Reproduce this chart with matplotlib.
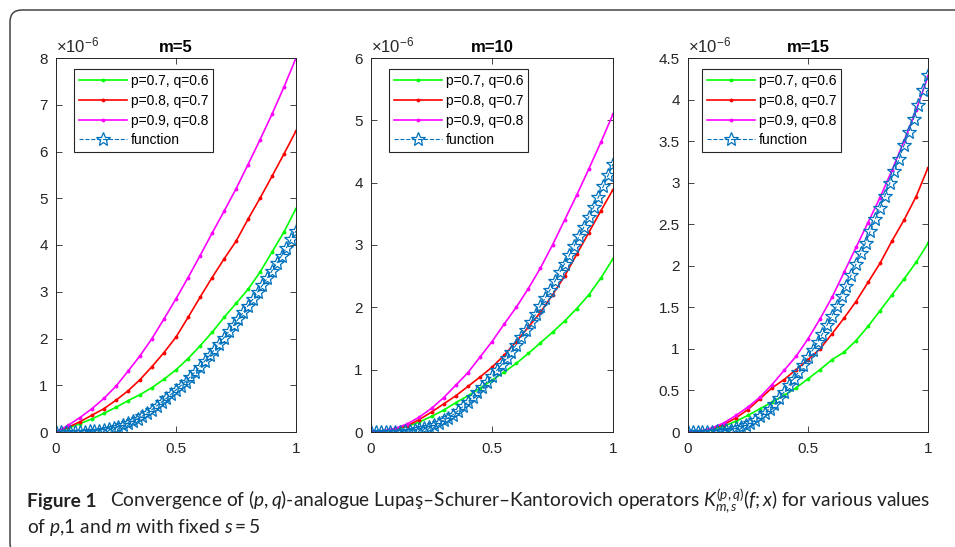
import matplotlib
matplotlib.use('Agg')
import matplotlib.pyplot as plt
import matplotlib.patches as pch
from matplotlib.transforms import IdentityTransform
from matplotlib.ticker import FormatStrFormatter, MultipleLocator
import numpy as np

plt.rcParams['font.family'] = ['Liberation Sans', 'DejaVu Sans']
plt.rcParams['mathtext.fontset'] = 'custom'
plt.rcParams['mathtext.rm'] = 'Lato'
plt.rcParams['mathtext.it'] = 'Lato:italic'

# values, in units of 1e-6
x_ops = np.linspace(0, 1, 21)
x_fun = np.linspace(0, 1, 51)

func = [0, 0, 0, 0.001, 0.002, 0.004, 0.007, 0.012, 0.019, 0.03, 0.045, 0.06, 0.08,
        0.11, 0.14, 0.19, 0.23, 0.28, 0.34, 0.41, 0.48, 0.56, 0.64, 0.72, 0.81, 0.90,
        0.99, 1.08, 1.18, 1.29, 1.40, 1.52, 1.64, 1.76, 1.89, 2.02, 2.15, 2.28, 2.42,
        2.56, 2.70, 2.84, 2.99, 3.14, 3.29, 3.45, 3.61, 3.77, 3.94, 4.12, 4.30]

# m = 5
green5 = [0, 0.08, 0.18, 0.28, 0.4, 0.53, 0.67, 0.8, 0.95, 1.13, 1.33, 1.57, 1.84,
          2.13, 2.45, 2.75, 3.05, 3.42, 3.85, 4.28, 4.78]
red5 = [0, 0.1, 0.22, 0.36, 0.5, 0.68, 0.88, 1.12, 1.4, 1.7, 2.03, 2.45, 2.88,
        3.3, 3.7, 4.08, 4.55, 5.0, 5.47, 5.95, 6.44]
magenta5 = [0, 0.14, 0.31, 0.5, 0.72, 0.98, 1.3, 1.63, 2.0, 2.42, 2.85, 3.3, 3.77,
            4.25, 4.72, 5.2, 5.72, 6.25, 6.8, 7.38, 8.0]
# m = 10
green10 = [0, 0.01, 0.04, 0.09, 0.16, 0.25, 0.35, 0.47, 0.58, 0.7, 0.83, 0.96, 1.1,
           1.26, 1.43, 1.6, 1.78, 1.98, 2.2, 2.47, 2.78]
red10 = [0, 0.02, 0.05, 0.1, 0.2, 0.32, 0.45, 0.58, 0.73, 0.88, 1.04, 1.23, 1.45,
         1.68, 1.92, 2.2, 2.5, 2.85, 3.2, 3.55, 3.89]
magenta10 = [0, 0.02, 0.06, 0.13, 0.24, 0.38, 0.55, 0.75, 0.95, 1.2, 1.45, 1.73, 2.0,
             2.3, 2.63, 3.0, 3.4, 3.8, 4.22, 4.65, 5.1]
# m = 15
green15 = [0, 0.01, 0.03, 0.07, 0.13, 0.2, 0.28, 0.36, 0.44, 0.53, 0.64, 0.75, 0.87,
           0.96, 1.1, 1.27, 1.46, 1.65, 1.84, 2.04, 2.27]
red15 = [0, 0.01, 0.04, 0.09, 0.17, 0.27, 0.4, 0.53, 0.63, 0.75, 0.87, 1.0, 1.18,
         1.37, 1.57, 1.8, 2.03, 2.3, 2.55, 2.83, 3.18]
magenta15 = [0, 0.01, 0.05, 0.11, 0.2, 0.3, 0.42, 0.57, 0.74, 0.91, 1.12, 1.36, 1.62,
             1.92, 2.22, 2.52, 2.82, 3.15, 3.5, 3.87, 4.28]

titles = ['m=5', 'm=10', 'm=15']
series = [(green5, red5, magenta5), (green10, red10, magenta10), (green15, red15, magenta15)]
ymax = [8, 6, 4.5]
ystep = [1, 1, 0.5]
labels = ['p=0.7, q=0.6', 'p=0.8, q=0.7', 'p=0.9, q=0.8', 'function']
colors = ['#00ff00', '#ff0000', '#ff00ff']

W, H = 955, 547
fig = plt.figure(figsize=(W / 100, H / 100), dpi=100)

# axes boxes in pixels: left, right, legend offset
boxes = [(56, 296, 18), (371, 613, 18), (688, 928, 14)]
top, bottom = 58, 432

for i in range(3):
    l, r, leg_off = boxes[i]
    ax = fig.add_axes([l / W, (H - bottom) / H, (r - l) / W, (bottom - top) / H])
    for ys, c in zip(series[i], colors):
        ax.plot(x_ops, ys, color=c, lw=1.2, marker='.', ms=3.5)
    ax.plot(x_fun, func, color='#0072bd', lw=0.8, ls='--', marker='*', ms=10,
            mfc='none', mec='#0072bd', mew=0.9)
    ax.set_xlim(0, 1)
    ax.set_ylim(0, ymax[i])
    ax.xaxis.set_major_locator(MultipleLocator(0.5))
    ax.yaxis.set_major_locator(MultipleLocator(ystep[i]))
    ax.xaxis.set_major_formatter(FormatStrFormatter('%g'))
    ax.yaxis.set_major_formatter(FormatStrFormatter('%g'))
    ax.tick_params(direction='in', top=True, right=True, length=4, width=0.6,
                   labelsize=11, color='#262626', labelcolor='#262626')
    ax.tick_params(axis='y', pad=6)
    ax.tick_params(axis='x', pad=7)
    for s in ax.spines.values():
        s.set_linewidth(0.7)
        s.set_color('#262626')
    ax.set_title(titles[i], fontweight='bold', fontsize=12, pad=4)
    ax.text(0.0, 1.008, r'$\mathregular{\times10^{-6}}$', transform=ax.transAxes,
            ha='left', va='bottom', fontsize=12, color='#262626')
    leg = ax.legend(labels, loc='upper left',
                    bbox_to_anchor=(leg_off / (r - l), 1 - 11 / (bottom - top)),
                    borderaxespad=0, fontsize=10, handlelength=3.5, handletextpad=0.25,
                    labelspacing=0.42, borderpad=0.35, fancybox=False, framealpha=1,
                    edgecolor='#262626')
    leg.get_frame().set_linewidth(0.8)

# rounded outer frame, running off the right and bottom edges
frame = pch.FancyBboxPatch((10, -8), 1000, H - 10 + 8, boxstyle='round,pad=0,rounding_size=12',
                           transform=IdentityTransform(), fill=False, edgecolor='#444444', lw=1.1)
fig.add_artist(frame)

cap = ['Lato', 'DejaVu Sans']
fig.text(27 / W, 1 - 501 / H, 'Figure 1', family=cap, fontweight='bold', fontsize=13.8,
         va='center', ha='left', color='#222222')
fig.text(110 / W, 1 - 501 / H,
         r'Convergence of $(p,q)$-analogue Lupaş–Schurer–Kantorovich operators '
         r'$K_{m,s}^{(p,q)}(f;x)$ for various values',
         family=cap, fontsize=13.8, va='center', ha='left', color='#222222')
fig.text(27 / W, 1 - 527 / H, r'of $p$,1 and $m$ with fixed $s=5$',
         family=cap, fontsize=13.8, va='center', ha='left', color='#222222')

fig.savefig('out.png', dpi=100)
